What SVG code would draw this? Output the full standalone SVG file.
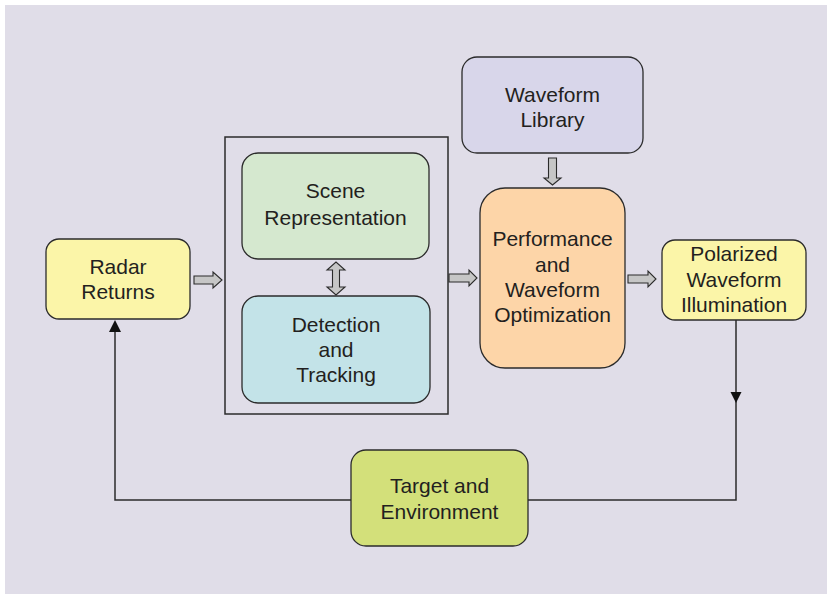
<svg xmlns="http://www.w3.org/2000/svg" width="827" height="594" viewBox="0 0 827 594">
<defs>
<style>
.box{stroke:#2b2b2b;stroke-width:1.3}
.t{font-family:"Liberation Sans",Arial,sans-serif;font-size:21px;fill:#231f20;text-anchor:middle}
.blk{fill:#c6c6c6;stroke:#2b2b2b;stroke-width:1.1;stroke-linejoin:miter}
.ln{fill:none;stroke:#2b2b2b;stroke-width:1.5}
.head{fill:#111}
</style>
</defs>
<rect x="0" y="0" width="827" height="594" fill="#ffffff"/>
<rect x="5" y="5" width="822" height="589" fill="#e0dde8"/>

<g id="connectors">
<path class="ln" d="M736,320 V500 H528"/>
<path class="head" d="M730.5,392 L741.5,392 L736,403 Z"/>
<path class="ln" d="M351,500 H115 V330"/>
<path class="head" d="M109,332 L121,332 L115,320 Z"/>
<path class="blk" d="M194,276 H213 V272 L222,280 L213,288 V284 H194 Z"/>
<path class="blk" d="M449,274 H469 V270 L477,278 L469,286 V282 H449 Z"/>
<path class="blk" d="M628,275 H648 V271 L656,279 L648,287 V283 H628 Z"/>
<path class="blk" d="M548.5,158 H556.5 V178 H561 L552.5,185 L544,178 H548.5 Z"/>
<path class="blk" d="M332.5,270 H327 L336,262 L345,270 H339.5 V287 H345 L336,295 L327,287 H332.5 Z"/>
</g>

<g id="container">
<rect x="225" y="137" width="223" height="277" fill="none" stroke="#2b2b2b" stroke-width="1.5"/>
</g>

<g id="radar-returns">
<rect class="box" x="46" y="239" width="144" height="80" rx="13" fill="#fbf5a8"/>
<text class="t" x="118" y="274">Radar</text>
<text class="t" x="118" y="298.5">Returns</text>
</g>

<g id="scene-representation">
<rect class="box" x="242" y="153" width="187" height="106" rx="16" fill="#d5e8cf"/>
<text class="t" x="335.5" y="198">Scene</text>
<text class="t" x="335.5" y="225">Representation</text>
</g>

<g id="detection-tracking">
<rect class="box" x="242" y="296" width="188" height="107" rx="16" fill="#c3e3e8"/>
<text class="t" x="336" y="332">Detection</text>
<text class="t" x="336" y="357">and</text>
<text class="t" x="336" y="382">Tracking</text>
</g>

<g id="waveform-library">
<rect class="box" x="462" y="57" width="181" height="96" rx="15" fill="#d8d6ea"/>
<text class="t" x="552.5" y="102">Waveform</text>
<text class="t" x="552.5" y="127">Library</text>
</g>

<g id="performance-optimization">
<rect class="box" x="480" y="188" width="145" height="180" rx="25" fill="#fdd5a8"/>
<text class="t" x="552.5" y="246">Performance</text>
<text class="t" x="552.5" y="272">and</text>
<text class="t" x="552.5" y="297">Waveform</text>
<text class="t" x="552.5" y="322">Optimization</text>
</g>

<g id="polarized-illumination">
<rect class="box" x="662" y="240" width="144" height="80" rx="13" fill="#fbf5a8"/>
<text class="t" x="734" y="261">Polarized</text>
<text class="t" x="734" y="287">Waveform</text>
<text class="t" x="734" y="312">Illumination</text>
</g>

<g id="target-environment">
<rect class="box" x="351" y="450" width="177" height="96" rx="15" fill="#d3e07a"/>
<text class="t" x="439.5" y="493">Target and</text>
<text class="t" x="439.5" y="519">Environment</text>
</g>
</svg>
